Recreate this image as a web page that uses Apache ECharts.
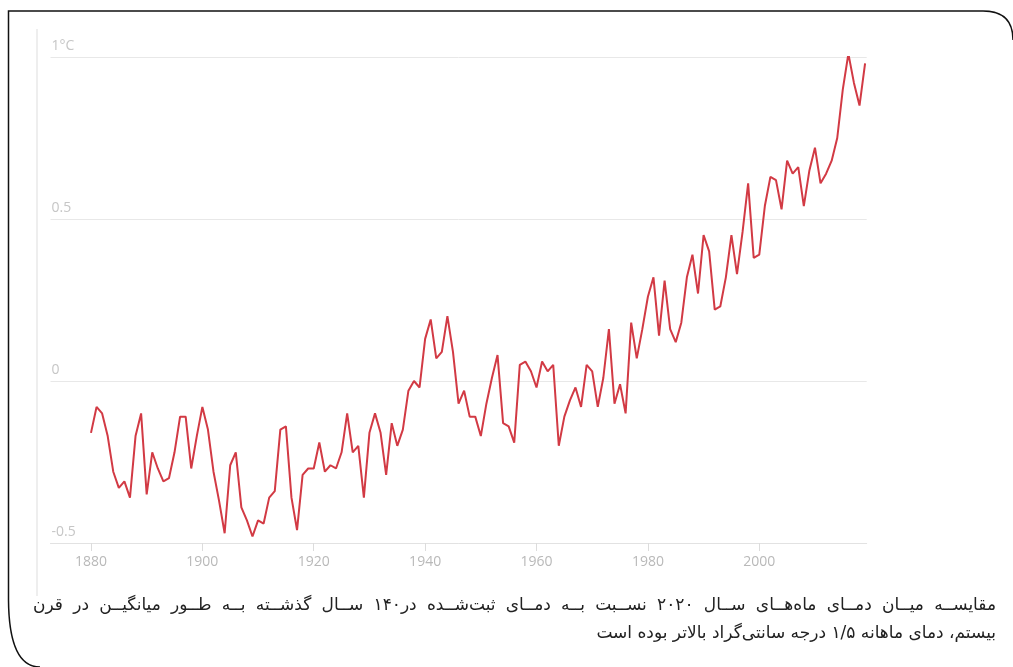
<!DOCTYPE html>
<html>
<head>
<meta charset="utf-8">
<script src="https://cdn.jsdelivr.net/npm/echarts@6/dist/echarts.min.js"></script>
<style>
html,body{margin:0;padding:0;background:#fff;}
#chart{width:1013px;height:667px;}
</style>
</head>
<body>
<div id="chart"></div>
<script>
// Data: annual temperature anomaly (°C) 1880-2019
const years = [];
for (let y = 1880; y <= 2019; y++) years.push(y);
const anomalies = [
 -0.16,-0.08,-0.10,-0.17,-0.28,-0.33,-0.31,-0.36,-0.17,-0.10,
 -0.35,-0.22,-0.27,-0.31,-0.30,-0.22,-0.11,-0.11,-0.27,-0.17,
 -0.08,-0.15,-0.28,-0.37,-0.47,-0.26,-0.22,-0.39,-0.43,-0.48,
 -0.43,-0.44,-0.36,-0.34,-0.15,-0.14,-0.36,-0.46,-0.29,-0.27,
 -0.27,-0.19,-0.28,-0.26,-0.27,-0.22,-0.10,-0.22,-0.20,-0.36,
 -0.16,-0.10,-0.16,-0.29,-0.13,-0.20,-0.15,-0.03,-0.00,-0.02,
  0.13, 0.19, 0.07, 0.09, 0.20, 0.09,-0.07,-0.03,-0.11,-0.11,
 -0.17,-0.07, 0.01, 0.08,-0.13,-0.14,-0.19, 0.05, 0.06, 0.03,
 -0.02, 0.06, 0.03, 0.05,-0.20,-0.11,-0.06,-0.02,-0.08, 0.05,
  0.03,-0.08, 0.01, 0.16,-0.07,-0.01,-0.10, 0.18, 0.07, 0.16,
  0.26, 0.32, 0.14, 0.31, 0.16, 0.12, 0.18, 0.32, 0.39, 0.27,
  0.45, 0.40, 0.22, 0.23, 0.32, 0.45, 0.33, 0.46, 0.61, 0.38,
  0.39, 0.54, 0.63, 0.62, 0.53, 0.68, 0.64, 0.66, 0.54, 0.65,
  0.72, 0.61, 0.64, 0.68, 0.75, 0.90, 1.01, 0.92, 0.85, 0.98
];
const xTicks = [1880, 1900, 1920, 1940, 1960, 1980, 2000];
const captionLines = [
  'مقایســه میــان دمــای ماه‌هــای ســال ۲۰۲۰ نســبت بــه دمــای ثبت‌شــده در۱۴۰ ســال گذشــته بــه طــور میانگیــن در قرن',
  'بیستم، دمای ماهانه ۱/۵ درجه سانتی‌گراد بالاتر بوده است'
];

const chart = echarts.init(document.getElementById('chart'), null, {renderer: 'canvas'});
const seriesData = years.map((y, i) => [y, anomalies[i]]);

// Caption layout: line 1 is justified across the full width (word by word, right to left)
const capFont = '17px "DejaVu Sans"';
const measureCtx = document.createElement('canvas').getContext('2d');
measureCtx.font = capFont;
const capRight = 996, capLeft = 33;
const captionGraphics = [];
(function () {
  const words = captionLines[0].split(' ');
  const widths = words.map(w => measureCtx.measureText(w).width);
  const total = widths.reduce((a, b) => a + b, 0);
  const gap = Math.max(5, (capRight - capLeft - total) / (words.length - 1));
  let x = capRight;
  words.forEach((w, i) => {
    captionGraphics.push({
      type: 'text',
      style: {text: w, x: x, y: 606, align: 'right', verticalAlign: 'middle', font: capFont, fill: '#222'}
    });
    x -= widths[i] + gap;
  });
  captionGraphics.push({
    type: 'text',
    style: {text: captionLines[1], x: capRight, y: 634, align: 'right', verticalAlign: 'middle', font: capFont, fill: '#222'}
  });
})();

chart.setOption({
  backgroundColor: '#ffffff',
  animation: false,
  grid: {left: 50.5, right: 146.3, top: 57, bottom: 124, containLabel: false},
  xAxis: {
    type: 'value',
    min: 1872.73,
    max: 2019.29,
    axisLine: {show: true, onZero: false, lineStyle: {color: '#e2e2e2', width: 1}},
    axisTick: {show: true, customValues: xTicks, length: 8, lineStyle: {color: '#dcdcdc'}},
    axisLabel: {
      customValues: xTicks, color: '#b9b9b9', fontSize: 14,
      fontFamily: 'Open Sans', margin: 12,
      formatter: v => String(v)
    },
    splitLine: {show: false}
  },
  yAxis: {
    type: 'value',
    min: -0.5,
    max: 1,
    interval: 0.5,
    axisLine: {show: false},
    axisTick: {show: false},
    splitLine: {show: true, lineStyle: {color: '#e8e8e8', width: 1}},
    axisLabel: {
      inside: true, align: 'left', verticalAlign: 'bottom',
      margin: 1, padding: [0, 0, 4, 0],
      color: '#c6c6c6', fontSize: 14, fontFamily: 'Open Sans',
      formatter: v => (v === 1 ? '1°C' : String(v))
    }
  },
  series: [{
    type: 'line',
    data: seriesData,
    symbol: 'none',
    lineStyle: {color: '#d23a44', width: 2},
    z: 5
  }],
  graphic: [
    {
      type: 'polyline',
      shape: {points: [[983, 11], [8.5, 11], [8.5, 600]]},
      style: {fill: null, stroke: '#111', lineWidth: 1.5}
    },
    {
      type: 'bezierCurve',
      shape: {x1: 8.5, y1: 600, cpx1: 9, cpy1: 667, x2: 40, y2: 667},
      style: {fill: null, stroke: '#111', lineWidth: 1.5}
    },
    {
      type: 'bezierCurve',
      shape: {x1: 983, y1: 11, cpx1: 1013, cpy1: 11, x2: 1013, y2: 40},
      style: {fill: null, stroke: '#111', lineWidth: 1.5}
    },
    {
      type: 'line',
      shape: {x1: 37, y1: 29, x2: 37, y2: 596},
      style: {stroke: '#eeeeee', lineWidth: 2}
    }
  ].concat(captionGraphics)
});
</script>
</body>
</html>
